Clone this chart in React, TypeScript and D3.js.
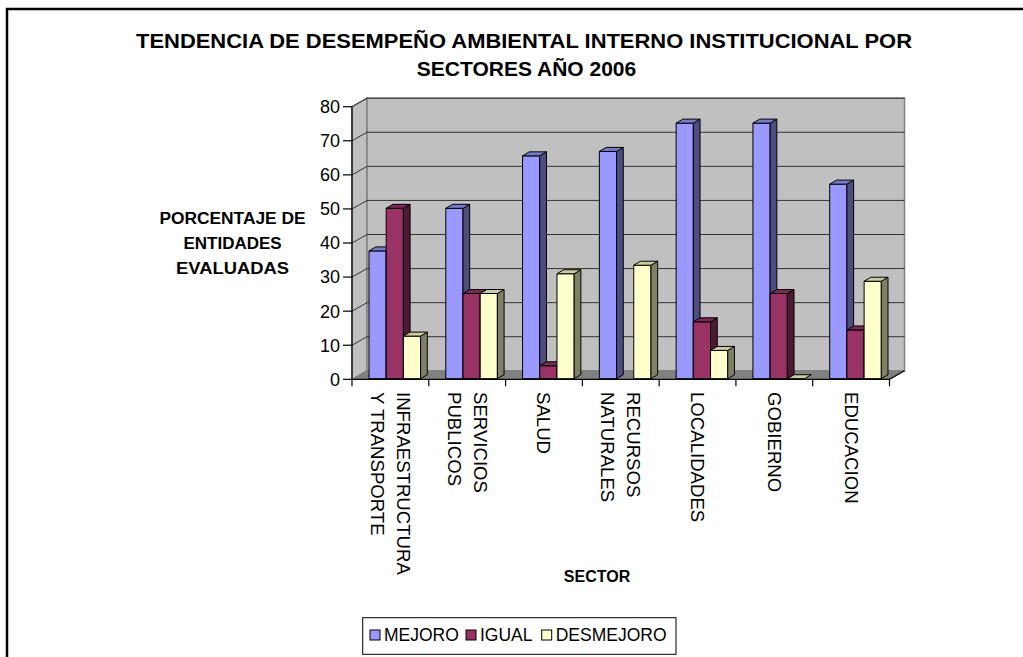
import React from "react";
import * as d3 from "d3";

// Sector names, one entry per category (multi-line labels split into lines)
const sectors: string[][] = [
  ["INFRAESTRUCTURA", "Y TRANSPORTE"],
  ["SERVICIOS", "PUBLICOS"],
  ["SALUD"],
  ["RECURSOS", "NATURALES"],
  ["LOCALIDADES"],
  ["GOBIERNO"],
  ["EDUCACION"],
];

// Percentage of evaluated entities per sector
const mejoro: (number | null)[] = [37.5, 50, 65.4, 66.7, 75, 75, 57.1];
const igual: (number | null)[] = [50, 25, 3.8, null, 16.7, 25, 14.3];
const desmejoro: (number | null)[] = [12.5, 25, 30.8, 33.3, 8.3, 0, 28.6];

const seriesNames = ["MEJORO", "IGUAL", "DESMEJORO"];
const seriesColors = ["#9999FF", "#993366", "#FFFFCC"];
const yTicks = [0, 10, 20, 30, 40, 50, 60, 70, 80];

const titleLines = [
  "TENDENCIA DE DESEMPEÑO AMBIENTAL INTERNO INSTITUCIONAL POR",
  "SECTORES AÑO 2006",
];
const yTitleLines = ["PORCENTAJE DE", "ENTIDADES", "EVALUADAS"];
const xTitle = "SECTOR";

const FONT = "'Liberation Sans', Arial, Helvetica, sans-serif";

function shade(c: string, k: number) {
  const col = d3.rgb(c);
  return d3.rgb(col.r * k, col.g * k, col.b * k).formatHex();
}

export default function App() {
  const W = 1023;
  const H = 657;
  // plot frame (front plane)
  const x0 = 352;
  const x1 = 889.5;
  const DX = 15; // wall depth offset
  const DY = -8.5;
  const BDX = 6.7; // bar depth offset
  const BDY = -4;

  const y = d3.scaleLinear().domain([0, 80]).range([379.3, 106.7]);
  const yBack = (v: number) => y(v) + DY;
  const xCat = d3
    .scaleBand<number>()
    .domain(sectors.map((_, i) => i))
    .range([x0, x1])
    .padding(0);
  const bw = xCat.bandwidth();
  const xSeries = d3
    .scaleBand<number>()
    .domain([0, 1, 2])
    .range([17, 17 + 51.6])
    .padding(0);
  const barW = xSeries.bandwidth();

  const data = [mejoro, igual, desmejoro];
  const yBase = y(0) - 0.6;

  const pts = (arr: number[][]) => arr.map((p) => p.join(",")).join(" ");

  const bars: React.ReactNode[] = [];
  sectors.forEach((_, i) => {
    data.forEach((series, s) => {
      const v = series[i];
      if (v == null) return;
      const bx = (xCat(i) as number) + (xSeries(s) as number);
      const top = yBase - (y(0) - y(v));
      const c = seriesColors[s];
      bars.push(
        <g key={`b${i}-${s}`} stroke="#000" strokeWidth={1} strokeLinejoin="round">
          {v > 0 && <rect x={bx} y={top} width={barW} height={yBase - top} fill={c} />}
          {v > 0 && (
            <polygon
              points={pts([
                [bx + barW, top],
                [bx + barW + BDX, top + BDY],
                [bx + barW + BDX, yBase + BDY],
                [bx + barW, yBase],
              ])}
              fill={shade(c, 0.5)}
            />
          )}
          <polygon
            points={pts([
              [bx, top],
              [bx + BDX, top + BDY],
              [bx + barW + BDX, top + BDY],
              [bx + barW, top],
            ])}
            fill={shade(c, 0.8)}
          />
        </g>
      );
    });
  });

  const yTitleWidths = [146, 98, 113];

  return (
    <svg
      width={W}
      height={H}
      style={{ position: "absolute", left: 0, top: 0, background: "#fff" }}
      fontFamily={FONT}
    >
      {/* outer frame */}
      <rect x={7} y={9} width={1040} height={700} fill="#fff" stroke="#000" strokeWidth={2.5} />

      {/* title */}
      <g fontWeight="bold" fontSize={21} textAnchor="middle" fill="#000">
        <text x={524} y={48} textLength={776} lengthAdjust="spacingAndGlyphs">
          {titleLines[0]}
        </text>
        <text x={526.5} y={75.5}>
          {titleLines[1]}
        </text>
      </g>

      {/* left wall */}
      <polygon
        points={pts([
          [x0, y(0)],
          [x0, y(80)],
          [x0 + DX, yBack(80)],
          [x0 + DX, yBack(0)],
        ])}
        fill="#C0C0C0"
        stroke="#808080"
        strokeWidth={1.5}
      />
      {/* back wall */}
      <rect
        x={x0 + DX}
        y={yBack(80)}
        width={x1 - x0}
        height={yBack(0) - yBack(80)}
        fill="#C0C0C0"
        stroke="#808080"
        strokeWidth={1.5}
      />
      {/* floor */}
      <polygon
        points={pts([
          [x0, y(0)],
          [x1, y(0)],
          [x1 + DX, yBack(0)],
          [x0 + DX, yBack(0)],
        ])}
        fill="#808080"
        stroke="#808080"
        strokeWidth={1}
      />

      {/* gridlines on back wall and left wall */}
      <g stroke="#333" strokeWidth={1}>
        {yTicks
          .filter((t) => t > 0)
          .map((t) => (
            <g key={`g${t}`}>
              <line x1={x0 + DX} x2={x1 + DX} y1={yBack(t)} y2={yBack(t)} />
              <line x1={x0} x2={x0 + DX} y1={y(t)} y2={yBack(t)} />
            </g>
          ))}
      </g>

      {/* bars */}
      {bars}

      {/* axes */}
      <g stroke="#000" strokeWidth={1.2}>
        <line x1={x0} x2={x0} y1={y(80)} y2={y(0)} />
        {yTicks.map((t) => (
          <line key={`yt${t}`} x1={x0 - 9} x2={x0} y1={y(t)} y2={y(t)} />
        ))}
        <line x1={x0} x2={x1} y1={y(0)} y2={y(0)} />
        <line x1={x1} x2={x1 + DX} y1={y(0)} y2={yBack(0)} />
        {d3.range(sectors.length + 1).map((i) => {
          const xx = x0 + i * bw;
          return <line key={`xt${i}`} x1={xx} x2={xx} y1={y(0)} y2={y(0) + 7} />;
        })}
      </g>

      {/* y tick labels */}
      <g fontSize={18} textAnchor="end" fill="#000">
        {yTicks.map((t) => (
          <text key={`yl${t}`} x={340} y={y(t) + 6.4}>
            {t}
          </text>
        ))}
      </g>

      {/* y axis title */}
      <g fontWeight="bold" fontSize={16} textAnchor="middle" fill="#000">
        {yTitleLines.map((l, i) => (
          <text
            key={`yt-${i}`}
            x={232.5}
            y={223.5 + i * 25}
            textLength={yTitleWidths[i]}
            lengthAdjust="spacingAndGlyphs"
          >
            {l}
          </text>
        ))}
      </g>

      {/* category labels, rotated to read downward */}
      <g fontSize={18.6} fill="#000">
        {sectors.map((lines, i) => {
          const cx = (xCat(i) as number) + bw / 2;
          const n = lines.length;
          return lines.map((l, j) => {
            const lx = cx + ((n - 1) / 2 - j) * 26;
            return (
              <text
                key={`xl${i}-${j}`}
                transform={`translate(${lx},392) rotate(90)`}
                dominantBaseline="central"
                textAnchor="start"
              >
                {l}
              </text>
            );
          });
        })}
      </g>

      {/* x axis title */}
      <text x={597} y={582} fontWeight="bold" fontSize={16} textAnchor="middle" fill="#000">
        {xTitle}
      </text>

      {/* legend */}
      <rect x={362.7} y={617.7} width={313.3} height={36.6} fill="#fff" stroke="#000" strokeWidth={1} />
      {(() => {
        const sq = [370, 466, 541.7];
        return seriesNames.map((nm, s) => (
          <g key={`lg${s}`}>
            <rect x={sq[s]} y={630} width={10} height={10} fill={seriesColors[s]} stroke="#000" strokeWidth={1} />
            <text x={sq[s] + 14} y={641} fontSize={17.5} fill="#000">
              {nm}
            </text>
          </g>
        ));
      })()}
    </svg>
  );
}
